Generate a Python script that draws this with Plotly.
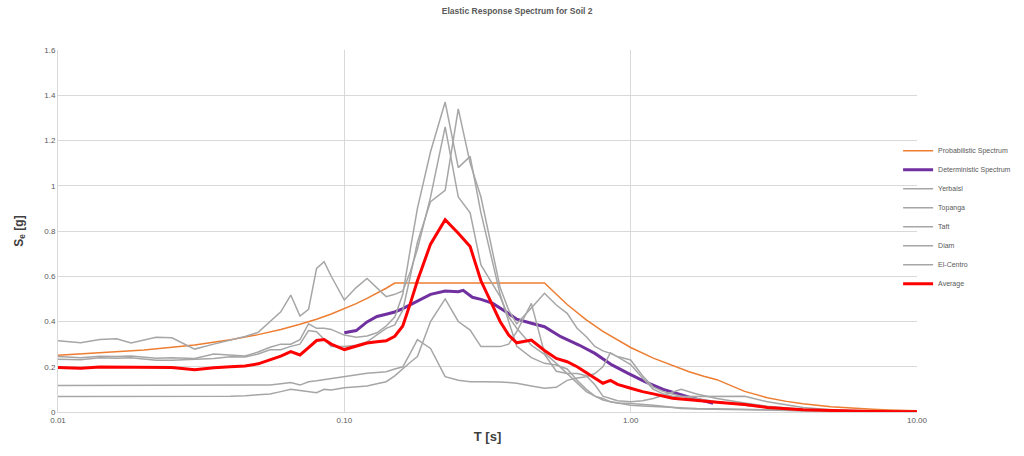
import plotly.graph_objects as go

# Shared period grid for the records and their average
T = [0.01, 0.012, 0.014, 0.016, 0.018, 0.02, 0.022, 0.025, 0.03,
     0.035, 0.04, 0.045, 0.05, 0.055, 0.06, 0.065, 0.07, 0.075, 0.08, 0.085, 0.09,
     0.10, 0.11, 0.12, 0.13, 0.14, 0.15, 0.16, 0.17, 0.18,
     0.20, 0.225, 0.25, 0.275, 0.30, 0.325, 0.35, 0.375, 0.40, 0.45, 0.50,
     0.55, 0.60, 0.65, 0.70, 0.75, 0.80, 0.85, 0.90, 1.0,
     1.1, 1.2, 1.3, 1.4, 1.5, 1.7, 2.0, 2.5, 3.0, 4.0, 5.0, 7.0, 10.0]

yerbaisl = [0.315, 0.306, 0.320, 0.324, 0.305, 0.318, 0.330, 0.328, 0.278,
            0.300, 0.318, 0.334, 0.352, 0.398, 0.443, 0.517, 0.424, 0.454, 0.635, 0.664, 0.600,
            0.495, 0.550, 0.590, 0.550, 0.510, 0.520, 0.535, 0.620, 0.720,
            0.950, 1.260, 0.950, 0.880, 0.650, 0.580, 0.510, 0.420, 0.370, 0.295, 0.255,
            0.180, 0.170, 0.170, 0.160, 0.120, 0.070, 0.060, 0.050, 0.045,
            0.050, 0.060, 0.075, 0.090, 0.100, 0.080, 0.060, 0.040, 0.025, 0.012, 0.007, 0.003, 0.001]

topanga = [0.245, 0.240, 0.246, 0.245, 0.248, 0.244, 0.238, 0.240, 0.237,
           0.256, 0.250, 0.248, 0.265, 0.286, 0.300, 0.300, 0.320, 0.390, 0.370, 0.370, 0.365,
           0.340, 0.330, 0.336, 0.350, 0.380, 0.420, 0.520, 0.720, 0.900,
           1.150, 1.370, 1.080, 1.130, 0.880, 0.700, 0.520, 0.400, 0.290, 0.240, 0.215,
           0.208, 0.190, 0.140, 0.100, 0.070, 0.053, 0.045, 0.040, 0.038,
           0.035, 0.030, 0.025, 0.020, 0.016, 0.013, 0.012, 0.012, 0.010, 0.006, 0.004, 0.002, 0.001]

taft = [0.233, 0.231, 0.240, 0.238, 0.240, 0.235, 0.229, 0.229, 0.233,
        0.237, 0.244, 0.243, 0.256, 0.275, 0.275, 0.290, 0.300, 0.360, 0.355, 0.323, 0.290,
        0.290, 0.295, 0.310, 0.340, 0.370, 0.385, 0.450, 0.600, 0.750,
        0.930, 0.980, 1.340, 1.100, 0.950, 0.750, 0.550, 0.450, 0.390, 0.460, 0.525,
        0.473, 0.436, 0.370, 0.333, 0.290, 0.270, 0.259, 0.245, 0.230,
        0.160, 0.110, 0.090, 0.080, 0.070, 0.060, 0.045, 0.030, 0.020, 0.010, 0.006, 0.003, 0.001]

diam = [0.117, 0.117, 0.118, 0.118, 0.118, 0.118, 0.117, 0.117, 0.116,
        0.117, 0.117, 0.117, 0.117, 0.119, 0.125, 0.130, 0.119, 0.134, 0.138, 0.143, 0.149,
        0.156, 0.165, 0.171, 0.175, 0.178, 0.190, 0.200, 0.260, 0.320,
        0.281, 0.156, 0.140, 0.134, 0.134, 0.134, 0.133, 0.130, 0.127, 0.115, 0.105,
        0.109, 0.140, 0.150, 0.156, 0.170, 0.200, 0.262, 0.245, 0.210,
        0.150, 0.100, 0.080, 0.070, 0.068, 0.068, 0.070, 0.070, 0.045, 0.020, 0.010, 0.004, 0.001]

el_centro = [0.068, 0.068, 0.069, 0.070, 0.070, 0.070, 0.069, 0.068, 0.067,
             0.068, 0.070, 0.072, 0.075, 0.080, 0.090, 0.100, 0.095, 0.090, 0.085, 0.100, 0.097,
             0.107, 0.110, 0.115, 0.125, 0.134, 0.160, 0.193, 0.220, 0.245,
             0.400, 0.500, 0.400, 0.362, 0.289, 0.289, 0.289, 0.300, 0.355, 0.480, 0.260,
             0.215, 0.170, 0.130, 0.090, 0.070, 0.060, 0.045, 0.040, 0.030,
             0.027, 0.024, 0.021, 0.019, 0.017, 0.015, 0.014, 0.013, 0.010, 0.006, 0.004, 0.002, 0.001]

average = [0.197, 0.193, 0.199, 0.199, 0.196, 0.197, 0.197, 0.197, 0.187,
           0.196, 0.200, 0.203, 0.213, 0.232, 0.247, 0.267, 0.252, 0.285, 0.316, 0.320, 0.300,
           0.276, 0.290, 0.305, 0.310, 0.315, 0.335, 0.380, 0.480, 0.580,
           0.742, 0.850, 0.790, 0.731, 0.580, 0.490, 0.400, 0.340, 0.306, 0.318, 0.272,
           0.237, 0.222, 0.200, 0.175, 0.148, 0.127, 0.140, 0.122, 0.105,
           0.090, 0.080, 0.070, 0.061, 0.057, 0.050, 0.043, 0.033, 0.020, 0.010, 0.006, 0.002, 0.001]

# Probabilistic (code) spectrum
T_prob = [0.01, 0.02, 0.03, 0.04, 0.05, 0.06, 0.07, 0.08, 0.09, 0.10, 0.11, 0.12, 0.13, 0.14, 0.15,
          0.2, 0.3, 0.4, 0.5, 0.6, 0.7, 0.8, 0.9, 1.0, 1.2, 1.4, 1.6, 1.8, 2.0,
          2.5, 3.0, 3.5, 4.0, 5.0, 6.0, 7.0, 8.0, 10.0]
prob = [0.251, 0.274, 0.296, 0.319, 0.342, 0.365, 0.388, 0.410, 0.433, 0.456, 0.479, 0.502, 0.524, 0.547, 0.570,
        0.570, 0.570, 0.570, 0.570, 0.475, 0.407, 0.356, 0.317, 0.285, 0.238, 0.204, 0.178, 0.158, 0.143,
        0.091, 0.063, 0.047, 0.036, 0.023, 0.016, 0.012, 0.009, 0.006]

# Deterministic spectrum
T_det = [0.10, 0.11, 0.12, 0.13, 0.14, 0.15, 0.16, 0.18, 0.20, 0.225, 0.25, 0.26, 0.28, 0.30,
         0.33, 0.37, 0.40, 0.45, 0.50, 0.57, 0.66, 0.75, 0.86, 0.98, 1.12, 1.3, 1.58, 1.94]
det = [0.350, 0.360, 0.398, 0.422, 0.432, 0.442, 0.457, 0.490, 0.520, 0.535, 0.532, 0.538, 0.507, 0.498,
       0.480, 0.440, 0.410, 0.392, 0.377, 0.333, 0.296, 0.259, 0.208, 0.171, 0.134, 0.100, 0.068, 0.038]

x_ticks = [0.01, 0.1, 1, 10]
x_ticktext = ["0.01", "0.10", "1.00", "10.00"]
y_ticks = [0, 0.2, 0.4, 0.6, 0.8, 1.0, 1.2, 1.4, 1.6]
y_ticktext = ["0", "0.2", "0.4", "0.6", "0.8", "1", "1.2", "1.4", "1.6"]

FONT = "Liberation Sans, Arial, sans-serif"
GRAY = "#a6a6a6"

fig = go.Figure()
fig.add_trace(go.Scatter(x=T_prob, y=prob, mode="lines", name="Probabilistic Spectrum",
                         line=dict(color="#ed7d31", width=1.5)))
fig.add_trace(go.Scatter(x=T_det, y=det, mode="lines", name="Deterministic Spectrum",
                         line=dict(color="#7030a0", width=3)))
for nm, vals in [("Yerbaisl", yerbaisl), ("Topanga", topanga), ("Taft", taft),
                 ("Diam", diam), ("El-Centro", el_centro)]:
    fig.add_trace(go.Scatter(x=T, y=vals, mode="lines", name=nm,
                             line=dict(color=GRAY, width=1.5)))
fig.add_trace(go.Scatter(x=T, y=average, mode="lines", name="Average",
                         line=dict(color="#ff0000", width=3)))

fig.update_layout(
    width=1024, height=456,
    margin=dict(l=58, r=107, t=50, b=44, autoexpand=False),
    paper_bgcolor="white", plot_bgcolor="white",
    font=dict(family=FONT, color="#595959", size=8),
    title=dict(text="<b>Elastic Response Spectrum for Soil 2</b>", x=0.505, xanchor="center",
               y=0.975, yanchor="middle", xref="container", yref="container",
               font=dict(size=8.5, color="#595959", family=FONT)),
    showlegend=True,
    legend=dict(x=0.978, xanchor="left", y=0.762, yanchor="top",
                font=dict(size=7, color="#595959", family=FONT),
                bgcolor="rgba(0,0,0,0)", tracegroupgap=0),
)
fig.update_xaxes(type="log", range=[-2, 1], tickvals=x_ticks, ticktext=x_ticktext,
                 showgrid=True, gridcolor="#d9d9d9", gridwidth=1,
                 showline=True, linecolor="#d9d9d9", zeroline=False,
                 ticks="", tickfont=dict(size=8, color="#595959"),
                 title=dict(text="<b>T [s]</b>", font=dict(size=13, color="#404040"), standoff=8))
fig.update_yaxes(range=[0, 1.6], tickvals=y_ticks, ticktext=y_ticktext,
                 showgrid=True, gridcolor="#d9d9d9", gridwidth=1,
                 showline=True, linecolor="#d9d9d9", zeroline=False,
                 ticks="", tickfont=dict(size=8, color="#595959"),
                 title=dict(text="<b>S<sub>e</sub> [g]</b>", font=dict(size=12, color="#404040"), standoff=18))

fig.write_html("out.html")
